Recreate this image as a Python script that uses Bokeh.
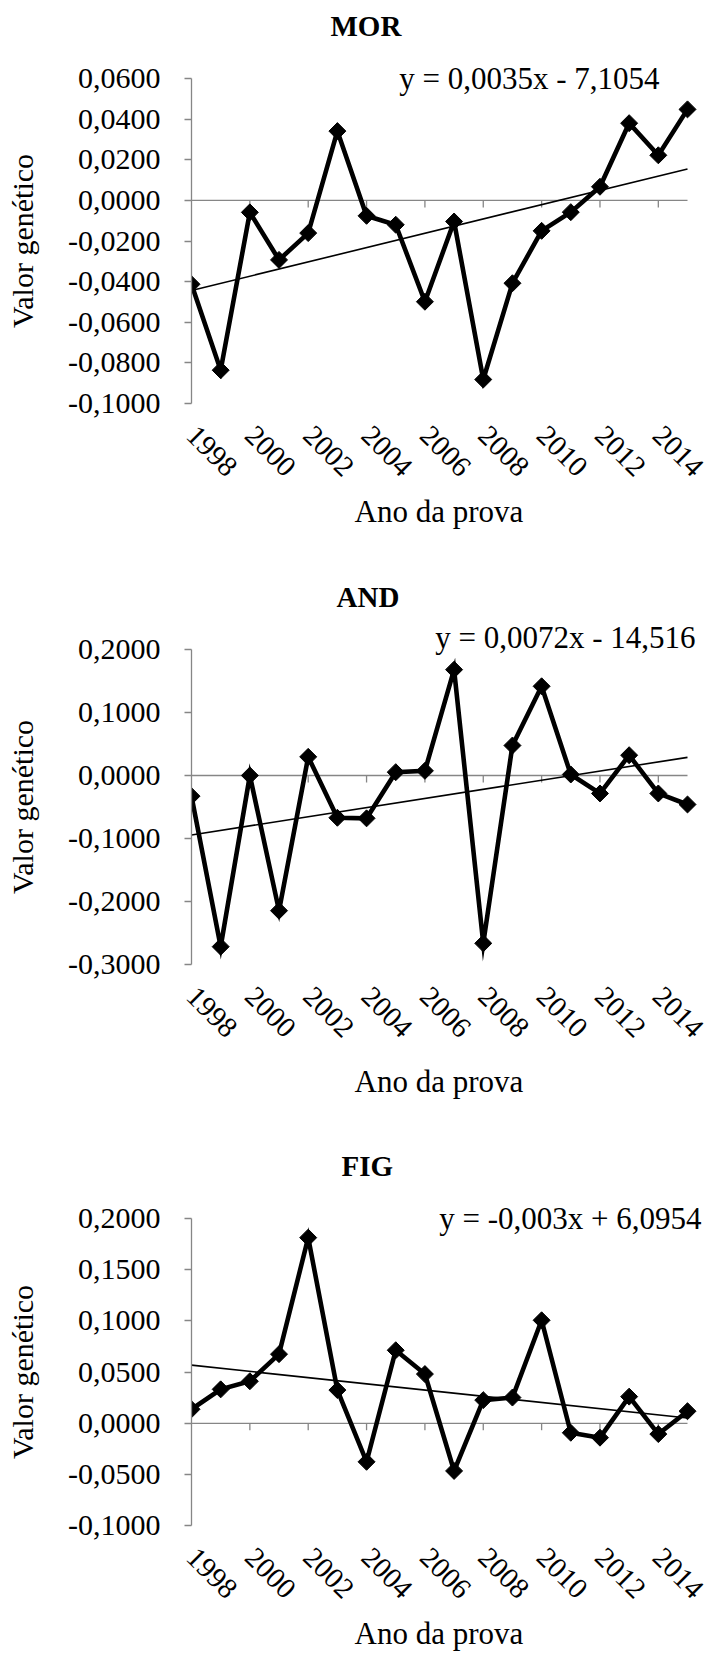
import math
import numpy as np
from bokeh.plotting import figure
from bokeh.layouts import column
from bokeh.models import FixedTicker, Range1d, Label, Title
from bokeh.embed import file_html
from bokeh.resources import INLINE

# ---------------- data ----------------
years = [1998, 1999, 2000, 2001, 2002, 2003, 2004, 2005, 2006,
         2007, 2008, 2009, 2010, 2011, 2012, 2013, 2014, 2015]

mor_values = [-0.0413, -0.0836, -0.0059, -0.0293, -0.0161, 0.0341, -0.0076, -0.0120, -0.0499,
              -0.0104, -0.0882, -0.0408, -0.0150, -0.0058, 0.0067, 0.0380, 0.0222, 0.0448]
and_values = [-0.0328, -0.2717, 0.0000, -0.2146, 0.0296, -0.0671, -0.0680, 0.0053, 0.0074,
              0.1680, -0.2664, 0.0476, 0.1416, 0.0016, -0.0285, 0.0322, -0.0285, -0.0460]
fig_values = [0.0137, 0.0331, 0.0410, 0.0674, 0.1809, 0.0324, -0.0375, 0.0712, 0.0480,
              -0.0464, 0.0226, 0.0251, 0.1004, -0.0092, -0.0140, 0.0260, -0.0105, 0.0118]

x_ticks = [1998, 2000, 2002, 2004, 2006, 2008, 2010, 2012, 2014]
x_tick_labels = ["1998", "2000", "2002", "2004", "2006", "2008", "2010", "2012", "2014"]

mor_y_ticks = [-0.10, -0.08, -0.06, -0.04, -0.02, 0.0, 0.02, 0.04, 0.06]
mor_y_labels = ["-0,1000", "-0,0800", "-0,0600", "-0,0400", "-0,0200", "0,0000", "0,0200", "0,0400", "0,0600"]
and_y_ticks = [-0.3, -0.2, -0.1, 0.0, 0.1, 0.2]
and_y_labels = ["-0,3000", "-0,2000", "-0,1000", "0,0000", "0,1000", "0,2000"]
fig_y_ticks = [-0.10, -0.05, 0.0, 0.05, 0.10, 0.15, 0.20]
fig_y_labels = ["-0,1000", "-0,0500", "0,0000", "0,0500", "0,1000", "0,1500", "0,2000"]

titles = ["MOR", "AND", "FIG"]
equations = ["y = 0,0035x - 7,1054", "y = 0,0072x - 14,516", "y = -0,003x + 6,0954"]
x_titles = ["Ano  da prova", "Ano da prova", "Ano da prova"]
y_title = "Valor genético"

FONT = "'Liberation Serif', 'Times New Roman', serif"
GRAY = "#868686"

LEFT = 191        # plot-area left edge (px)
AXIS_W = 496      # width of the 1998..2015 span (px)
PAD = 34          # padding of the frame above and below the tick span (px)
X_TITLE_LEN = 170  # approx. rendered length of the x title (px)


def make_panel(values, yticks, ylabels, title, eq, xtitle,
               height, top, bottom, title_offset, eq_dx, eq_dy, xt_standoff):
    axis_h = height - top - bottom
    ymin, ymax = yticks[0], yticks[-1]
    y_per_px = (ymax - ymin) / axis_h
    x_per_px = (years[-1] - years[0]) / AXIS_W
    x_end = years[-1] + (705 - LEFT - AXIS_W) * x_per_px

    p = figure(width=705, height=height,
               x_range=Range1d(years[0], x_end),
               y_range=Range1d(ymin - PAD * y_per_px, ymax + PAD * y_per_px),
               output_backend="svg", toolbar_location=None,
               min_border_left=LEFT, min_border_right=0,
               min_border_top=top - PAD, min_border_bottom=bottom - PAD)
    p.outline_line_color = None
    p.xgrid.grid_line_color = None
    p.ygrid.grid_line_color = None
    p.background_fill_color = "white"
    p.border_fill_color = "white"

    p.title.text = title
    p.title.text_font = FONT
    p.title.text_font_size = "29px"
    p.title.text_font_style = "bold"
    p.title.text_color = "black"
    p.title.align = "left"
    p.title.offset = title_offset
    p.title.standoff = 6

    # y axis
    ya = p.yaxis[0]
    ya.bounds = (ymin, ymax)
    ya.ticker = FixedTicker(ticks=yticks)
    ya.major_label_overrides = dict(zip(yticks, ylabels))
    ya.axis_line_color = GRAY
    ya.axis_line_width = 1.3
    ya.major_tick_line_color = GRAY
    ya.major_tick_line_width = 1.3
    ya.major_tick_out = 7
    ya.major_tick_in = 0
    ya.minor_tick_line_color = None
    ya.major_label_text_font = FONT
    ya.major_label_text_font_size = "30px"
    ya.major_label_text_color = "black"
    ya.major_label_standoff = 24
    ya.axis_label = y_title
    ya.axis_label_text_font = FONT
    ya.axis_label_text_font_size = "30px"
    ya.axis_label_text_font_style = "normal"
    ya.axis_label_text_color = "black"
    ya.axis_label_standoff = 26

    # x axis (labels only; its line is drawn at zero)
    xa = p.xaxis[0]
    xa.bounds = (years[0], years[-1])
    xa.ticker = FixedTicker(ticks=x_ticks)
    xa.major_label_overrides = dict(zip(x_ticks, x_tick_labels))
    xa.axis_line_color = None
    xa.major_tick_line_color = None
    xa.minor_tick_line_color = None
    xa.major_tick_out = 0
    xa.major_tick_in = 0
    xa.major_label_orientation = -math.pi / 4
    xa.major_label_text_font = FONT
    xa.major_label_text_font_size = "29px"
    xa.major_label_text_color = "black"
    xa.major_label_standoff = 27 - PAD

    # x title centred on the plotted span
    xt = Title(text=xtitle, align="left", offset=AXIS_W / 2 - X_TITLE_LEN / 2,
               vertical_align="top", standoff=xt_standoff, text_font=FONT,
               text_font_size="31px", text_font_style="normal", text_color="black")
    p.add_layout(xt, "below")

    # zero line with tick marks pointing down
    p.segment(x0=[years[0]], y0=[0], x1=[years[-1]], y1=[0],
              line_color=GRAY, line_width=1.3, level="underlay")
    tick_len = 7 * y_per_px
    p.segment(x0=x_ticks[1:], y0=[0] * (len(x_ticks) - 1),
              x1=x_ticks[1:], y1=[-tick_len] * (len(x_ticks) - 1),
              line_color=GRAY, line_width=1.3, level="underlay")

    # trend line (least squares from the data)
    coef = np.polyfit(years, values, 1)
    p.line([years[0], years[-1]], list(np.polyval(coef, [years[0], years[-1]])),
           line_color="black", line_width=1.6)

    # data series
    p.line(years, values, line_color="black", line_width=4.6, line_join="miter")
    p.scatter(years, values, marker="square", angle=math.pi / 4, size=12,
              fill_color="black", line_color="black")

    lab = Label(x=years[-1], y=ymax, text=eq, text_align="right",
                text_baseline="middle", x_offset=eq_dx, y_offset=eq_dy,
                text_font=FONT, text_font_size="31px", text_color="black")
    p.add_layout(lab)
    return p


p1 = make_panel(mor_values, mor_y_ticks, mor_y_labels, titles[0], equations[0], x_titles[0],
                560, 78, 157, 139, -28, 0, 12)
p2 = make_panel(and_values, and_y_ticks, and_y_labels, titles[1], equations[1], x_titles[1],
                570, 89, 166, 145, 8, 12, 30)
p3 = make_panel(fig_values, fig_y_ticks, fig_y_labels, titles[2], equations[2], x_titles[2],
                528, 88, 128, 150, 14, 0, 12)

layout = column(p1, p2, p3, spacing=0)
open("out.html", "w").write(file_html(layout, INLINE))
